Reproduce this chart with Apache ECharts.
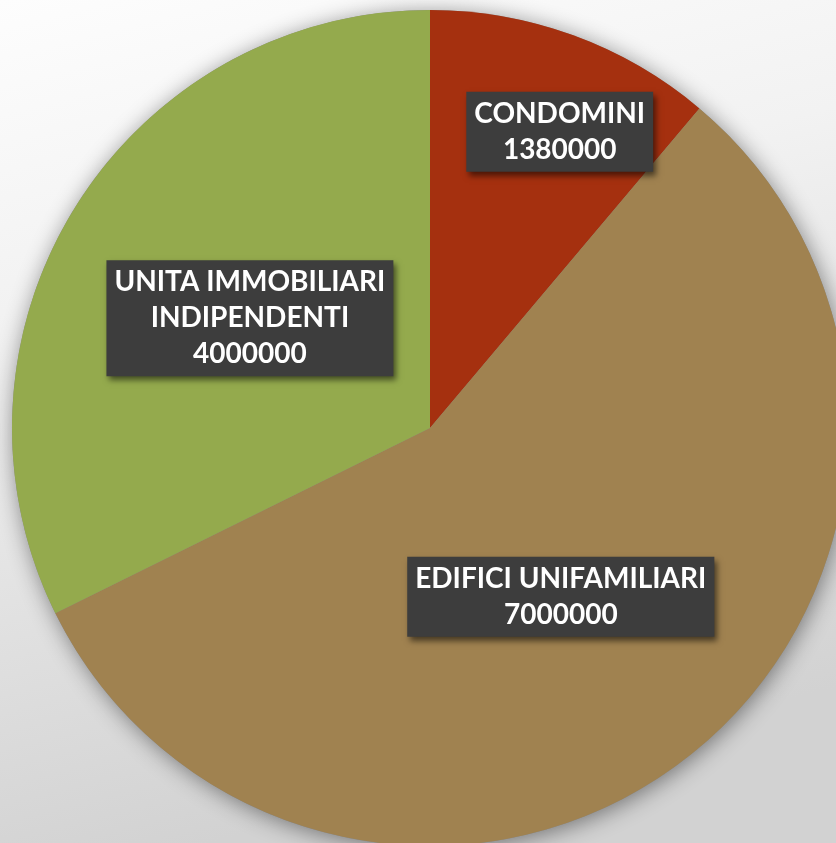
<!DOCTYPE html>
<html>
<head>
<meta charset="utf-8">
<script src="https://cdn.jsdelivr.net/npm/echarts@6/dist/echarts.min.js"></script>
<style>html,body{margin:0;padding:0;}#c{width:836px;height:843px;}</style>
</head>
<body>
<div id="c"></div>
<script>
const categories = ['CONDOMINI', 'EDIFICI UNIFAMILIARI', 'UNITA IMMOBILIARI INDIPENDENTI'];
const values = [1380000, 7000000, 4000000];
const colors = ['#A5300F', '#A08250', '#94AA4D'];
const labelShift = [[57, -97], [0, 2], [0, 2]];

function wrap(name, maxChars) {
  const words = name.split(' ');
  const lines = [];
  let cur = '';
  words.forEach(w => {
    const t = cur ? cur + ' ' + w : w;
    if (t.length > maxChars && cur) { lines.push(cur); cur = w; } else { cur = t; }
  });
  if (cur) lines.push(cur);
  return lines.join('\n');
}

const total = values.reduce((a, b) => a + b, 0);
const chart = echarts.init(document.getElementById('c'), null, {renderer: 'canvas'});
chart.setOption({
  animation: false,
  backgroundColor: {
    type: 'linear', x: 0, y: 0, x2: 0.25, y2: 1,
    colorStops: [{offset: 0, color: '#fdfdfd'}, {offset: 0.35, color: '#f2f2f2'}, {offset: 1, color: '#d2d2d2'}]
  },
  series: [
    {
      type: 'pie',
      silent: true,
      center: [430, 428],
      radius: 418,
      startAngle: 90,
      label: {show: false},
      labelLine: {show: false},
      itemStyle: {color: '#888', shadowBlur: 22, shadowColor: 'rgba(0,0,0,0.45)', shadowOffsetX: 2, shadowOffsetY: 3},
      data: [{value: total, name: ''}],
      z: 1
    },
    {
      type: 'pie',
      center: [430, 428],
      radius: 418,
      startAngle: 90,
      clockwise: true,
      avoidLabelOverlap: false,
      emphasis: {disabled: true},
      z: 2,
      data: categories.map((c, i) => ({name: c, value: values[i], itemStyle: {color: colors[i]}})),
      label: {
        show: true,
        position: 'inside',
        formatter: p => wrap(p.name, 20) + '\n' + p.value,
        color: '#ffffff',
        fontFamily: 'Lato',
        fontWeight: 'bold',
        fontSize: 28,
        lineHeight: 36,
        align: 'center',
        backgroundColor: '#3d3d3d',
        padding: [4, 8, 4, 8],
        shadowColor: 'rgba(0,0,0,0.55)',
        shadowBlur: 6,
        shadowOffsetX: 3,
        shadowOffsetY: 4
      },
      labelLine: {show: false},
      labelLayout: function (params) {
        const s = labelShift[params.dataIndex];
        return {dx: s[0], dy: s[1]};
      }
    }
  ]
});
</script>
</body>
</html>
